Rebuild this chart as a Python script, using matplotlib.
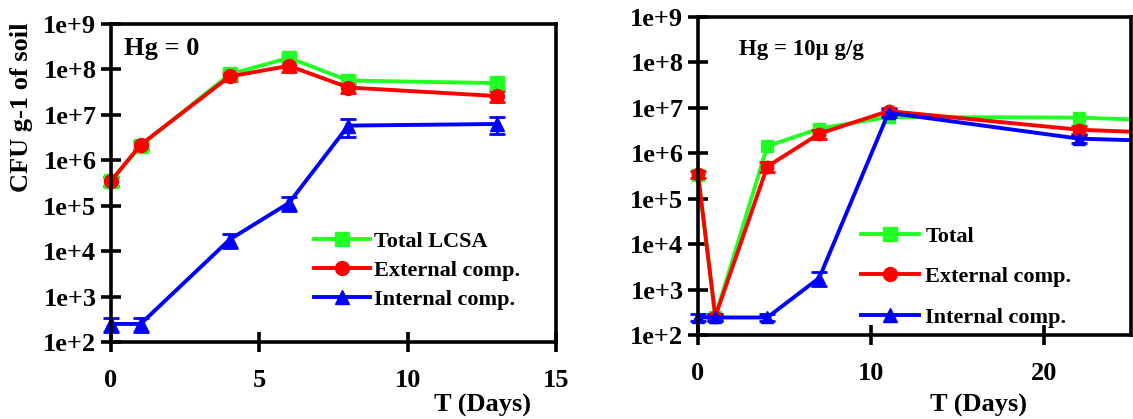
import matplotlib.pyplot as plt
from matplotlib.lines import Line2D
from matplotlib.patches import Rectangle

plt.rcParams['font.family'] = ['Liberation Serif', 'DejaVu Serif']
plt.rcParams['font.weight'] = 'bold'

# Hg = 0
days0 = [0, 1, 4, 6, 8, 13]
total0 = [3.5e5, 2.1e6, 7.8e7, 1.8e8, 5.7e7, 5.0e7]
ext0 = [3.5e5, 2.2e6, 7.0e7, 1.2e8, 4.0e7, 2.6e7]
int0 = [250, 250, 1.8e4, 1.15e5, 5.8e6, 6.3e6]
total0_err = [8e4, 4e5, 1.5e7, 3e7, 1e7, 1e7]
ext0_err = [8e4, 4e5, 1.5e7, 3e7, 1e7, 7e6]
int0_err = [80, 80, 6e3, 4e4, 2.5e6, 2.5e6]

# Hg = 10 ug/g
days10 = [0, 1, 4, 7, 11, 22, 28]
total10 = [3.4e5, 255, 1.43e6, 3.5e6, 6.3e6, 6.1e6, 5.1e6]
ext10 = [3.5e5, 255, 5.1e5, 2.7e6, 8.5e6, 3.3e6, 2.7e6]
int10 = [243, 243, 243, 1.8e3, 7.8e6, 2.1e6, 1.8e6]
ext10_err = [6e4, 40, 1.2e5, 6e5, 1.5e6, 6e5, 4e5]
int10_err = [40, 40, 40, 6e2, 1.5e6, 4e5, 3e5]

green = '#22ff22'
red = '#ff0000'
blue = '#0000ff'

fig = plt.figure(figsize=(11.33, 4.19), dpi=100)
ax1 = fig.add_axes([111/1133, 1-342/419, (556-111)/1133, (342-24)/419])
ax2 = fig.add_axes([698/1133, 1-335/419, (1131-698)/1133, (335-17)/419])

ekw = dict(capsize=6, capthick=2, elinewidth=2, lw=2.8, ms=10)

ax1.errorbar(days0, total0, yerr=total0_err, color=green, marker='s', **ekw)
ax1.errorbar(days0, ext0, yerr=ext0_err, color=red, marker='o', **ekw)
ax1.errorbar(days0, int0, yerr=int0_err, color=blue, marker='^', **ekw)
for a in ax1.lines + ax1.collections:
    a.set_clip_on(False)

ekw2 = dict(capsize=6, capthick=2, elinewidth=2, lw=2.8, ms=9)
ax2.plot(days10, total10, color=green, marker='s', lw=2.8, ms=9)
ax2.errorbar(days10, ext10, yerr=ext10_err, color=red, marker='o', **ekw2)
ax2.errorbar(days10, int10, yerr=int10_err, color=blue, marker='^', **ekw2)
# clip only on the right side (data runs past the visible range)
clip = Rectangle((-0.06, -0.1), 1.06, 1.2, transform=ax2.transAxes, fill=False)
for a in ax2.lines + ax2.collections:
    a.set_clip_path(clip)

yticks = [1e2, 1e3, 1e4, 1e5, 1e6, 1e7, 1e8, 1e9]
ylabels = ['1e+%d' % i for i in range(2, 10)]

for ax, xt, xl in [(ax1, [0, 5, 10, 15], (0, 15)), (ax2, [0, 10, 20], (0, 25))]:
    ax.set_yscale('log')
    ax.set_ylim(1e2, 1e9)
    ax.set_xlim(*xl)
    ax.set_yticks(yticks)
    ax.set_yticklabels(ylabels)
    ax.set_xticks(xt)
    ax.minorticks_off()
    for s in ax.spines.values():
        s.set_linewidth(2.6)
    ax.tick_params(axis='both', direction='inout', length=15, width=2.6, labelsize=19)
    ax.tick_params(axis='x', pad=12)
    ax.tick_params(axis='y', pad=3)

fig.text(22/1133, 1-107/419, 'CFU g-1 of soil', rotation=90, ha='center', va='center',
         fontsize=19, fontweight='bold')
fig.text(482/1133, 1-405/419, 'T (Days)', ha='center', va='center', fontsize=19, fontweight='bold')
fig.text(979/1133, 1-405/419, 'T (Days)', ha='center', va='center', fontsize=19, fontweight='bold')

fig.text(124/1133, 1-49/419, 'Hg = 0', ha='left', va='center', fontsize=19, fontweight='bold')
fig.text(739/1133, 1-50/419, 'Hg = 10\u00b5 g/g', ha='left', va='center', fontsize=16.5, fontweight='bold')

def handles(labels):
    cols = [green, red, blue]
    marks = ['s', 'o', '^']
    return [Line2D([], [], color=c, marker=m, lw=2.8, ms=10) for c, m in zip(cols, marks)], labels

h1, l1 = handles(['Total LCSA', 'External comp.', 'Internal comp.'])
ax1.legend(h1, l1, loc='upper left', bbox_to_anchor=(314/1133, 1-231/419), bbox_transform=fig.transFigure,
           frameon=False, fontsize=16, handlelength=2.5, handletextpad=0.2, labelspacing=0.38,
           borderpad=0, borderaxespad=0)
h2, l2 = handles(['Total', 'External comp.', 'Internal comp.'])
ax2.legend(h2, l2, loc='upper left', bbox_to_anchor=(861/1133, 1-226/419), bbox_transform=fig.transFigure,
           frameon=False, fontsize=16, handlelength=2.6, handletextpad=0.3, labelspacing=0.9,
           borderpad=0, borderaxespad=0)

fig.savefig('out.png', dpi=100)
